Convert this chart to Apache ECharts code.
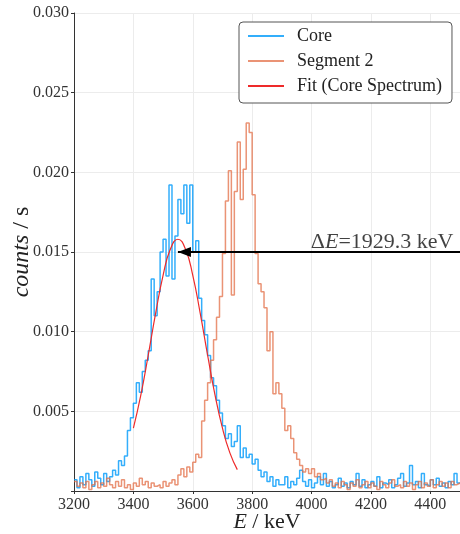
<!DOCTYPE html>
<html>
<head>
<meta charset="utf-8">
<script src="https://cdn.jsdelivr.net/npm/echarts@6/dist/echarts.min.js"></script>
<style>
  html, body { margin: 0; padding: 0; background: #fff; }
  #chart { width: 460px; height: 534px; }
</style>
</head>
<body>
<div id="chart"></div>
<script>
// Histogram binning (keV): left edge of the first bin and the bin width
const binStart = 3200;
const binWidth = 10;

// Core detector spectrum (counts / s), 10 keV bins from 3200 keV
const coreLow = [0.0007, 0.0002, 0.0009, 0.0004, 0.0011, 0.0007, 0.0003, 0.0012, 0.0008, 0.0004,
                 0.0011, 0.0006, 0.0009, 0.0013, 0.0010];
const corePeak = [0.0019, 0.0016, 0.0022, 0.0038, 0.0046, 0.0055, 0.0068, 0.0062, 0.0075, 0.0082,
                  0.0088, 0.0133, 0.0110, 0.0125, 0.0150, 0.0158, 0.0135, 0.0192, 0.0133, 0.0160,
                  0.0183, 0.0174, 0.0192, 0.0168, 0.0192, 0.0150, 0.0157, 0.0121, 0.0107, 0.0098,
                  0.0085, 0.0071, 0.0066, 0.0057, 0.0049, 0.0041, 0.0033, 0.0036, 0.0028, 0.0031,
                  0.0041, 0.0021, 0.0027, 0.0021, 0.0023, 0.0017, 0.0020, 0.0013, 0.0009, 0.0012,
                  0.0006, 0.0009, 0.0003, 0.0007, 0.0004];
const coreHigh = [0.0004, 0.0009, 0.0002, 0.0006, 0.0004, 0.0008, 0.0013, 0.0006, 0.0003, 0.0007,
                  0.0002, 0.0005, 0.0009, 0.0004, 0.0011, 0.0003, 0.0006, 0.0002, 0.0004, 0.0008,
                  0.0003, 0.0005, 0.0002, 0.0006, 0.0004, 0.0011, 0.0003, 0.0007, 0.0002, 0.0004,
                  0.0006, 0.0003, 0.0009, 0.0002, 0.0005, 0.0004, 0.0007, 0.0002, 0.0004, 0.0008,
                  0.0011, 0.0003, 0.0005, 0.0016, 0.0004, 0.0006, 0.0002, 0.0011, 0.0004, 0.0003,
                  0.0007, 0.0004, 0.0008, 0.0003, 0.0005, 0.0002, 0.0006, 0.0004, 0.0011, 0.0005];

// Segment 2 spectrum (counts / s), same binning
const segLow = [0.0006, 0.0003, 0.0005, 0.0002, 0.0006, 0.0001, 0.0004, 0.0006, 0.0002, 0.0005,
                0.0003, 0.0008, 0.0004, 0.0002, 0.0006, 0.0003, 0.0007, 0.0002, 0.0004, 0.0001,
                0.0005, 0.0003, 0.0008, 0.0004, 0.0006, 0.0002, 0.0005, 0.0003, 0.0004, 0.0002,
                0.0006, 0.0003, 0.0005, 0.0007, 0.0004];
const segPeak = [0.0010, 0.0014, 0.0009, 0.0015, 0.0012, 0.0018, 0.0023, 0.0021, 0.0044, 0.0057,
                 0.0068, 0.0082, 0.0095, 0.0109, 0.0122, 0.0149, 0.0182, 0.0201, 0.0123, 0.0188,
                 0.0219, 0.0183, 0.0202, 0.0231, 0.0225, 0.0186, 0.0149, 0.0130, 0.0125, 0.0115,
                 0.0088, 0.0100, 0.0061, 0.0068, 0.0061, 0.0052, 0.0038, 0.0041, 0.0033, 0.0024,
                 0.0020, 0.0016, 0.0012, 0.0014, 0.0011, 0.0014, 0.0009, 0.0011, 0.0007, 0.0008,
                 0.0005];
const segHigh = [0.0007, 0.0003, 0.0005, 0.0002, 0.0006, 0.0004, 0.0001, 0.0005, 0.0003, 0.0007,
                 0.0002, 0.0004, 0.0006, 0.0002, 0.0005, 0.0003, 0.0001, 0.0006, 0.0004, 0.0002,
                 0.0005, 0.0007, 0.0003, 0.0004, 0.0002, 0.0006, 0.0003, 0.0005, 0.0001, 0.0004,
                 0.0006, 0.0002, 0.0005, 0.0003, 0.0007, 0.0002, 0.0004, 0.0006, 0.0003, 0.0005,
                 0.0002, 0.0006, 0.0004, 0.0005];

// Gaussian fit to the core peak, sampled every 25 keV
const fitEnergy = [3400, 3425, 3450, 3475, 3500, 3525, 3550, 3575, 3600, 3625, 3650, 3675, 3700, 3725, 3750];
const fitRate = [0.00394, 0.00602, 0.00852, 0.01116, 0.01354, 0.0152, 0.0158, 0.0152, 0.01354, 0.01116,
                 0.00852, 0.00602, 0.00394, 0.00239, 0.00134];

// Energy shift annotation: arrow from the shifted position back to the fitted centroid
const shiftFrom = 5479.3;
const shiftTo = 3550;
const shiftLevel = 0.015;
const shiftLabel = '1929.3 keV';

// Axis ticks
const xTicks = { min: 3200, max: 4500, interval: 200 };
const yTicks = { min: 0, max: 0.030, interval: 0.005 };

const serif = '"Liberation Serif", "DejaVu Serif", serif';

function toSteps(values) {
  const pts = values.map((v, i) => [binStart + i * binWidth, v]);
  pts.push([binStart + values.length * binWidth, values[values.length - 1]]);
  return pts;
}

const coreData = toSteps(coreLow.concat(corePeak, coreHigh));
const segData = toSteps(segLow.concat(segPeak, segHigh));
const fitData = fitEnergy.map((e, i) => [e, fitRate[i]]);

// The arrow tail lies beyond the right edge of the plot; it is cut at the axis limit
const arrowTail = Math.min(shiftFrom, xTicks.max);

const chart = echarts.init(document.getElementById('chart'), null, { renderer: 'canvas' });

chart.setOption({
  animation: false,
  backgroundColor: '#ffffff',
  grid: { left: 74, right: 0, top: 13, bottom: 43, containLabel: false, outerBoundsMode: 'none' },
  legend: {
    data: ['Core', 'Segment 2', 'Fit (Core Spectrum)'],
    orient: 'vertical',
    left: 239,
    top: 22,
    padding: [5, 10, 8, 8],
    itemGap: 7,
    itemWidth: 36,
    itemHeight: 14,
    itemStyle: { opacity: 0 },
    borderColor: '#555',
    borderWidth: 1,
    borderRadius: 4,
    backgroundColor: '#fff',
    textStyle: { fontFamily: serif, fontSize: 18, color: '#222', padding: [0, 0, 0, 8] }
  },
  xAxis: {
    type: 'value',
    min: xTicks.min,
    max: xTicks.max,
    interval: xTicks.interval,
    name: '{i|E} / keV',
    nameLocation: 'middle',
    nameGap: 20,
    nameMoveOverlap: false,
    nameTextStyle: {
      fontFamily: serif, fontSize: 22, color: '#222',
      rich: { i: { fontFamily: serif, fontSize: 22, fontStyle: 'italic', color: '#222' } }
    },
    axisLine: { show: true, lineStyle: { color: '#333', width: 1 } },
    axisTick: { show: true, length: 3, lineStyle: { color: '#333' } },
    axisLabel: {
      fontFamily: serif, fontSize: 16, color: '#333', margin: 6, showMaxLabel: false,
      formatter: v => String(v)
    },
    splitLine: { show: true, lineStyle: { color: '#ececec', width: 1 } }
  },
  yAxis: {
    type: 'value',
    min: yTicks.min,
    max: yTicks.max,
    interval: yTicks.interval,
    name: '{i|counts} / s',
    nameLocation: 'middle',
    nameRotate: 90,
    nameGap: 40,
    nameMoveOverlap: false,
    nameTextStyle: {
      fontFamily: serif, fontSize: 24, color: '#222',
      rich: { i: { fontFamily: serif, fontSize: 24, fontStyle: 'italic', color: '#222' } }
    },
    axisLine: { show: true, lineStyle: { color: '#333', width: 1 } },
    axisTick: { show: true, length: 3, lineStyle: { color: '#333' } },
    axisLabel: {
      fontFamily: serif, fontSize: 16, color: '#333', margin: 5,
      formatter: v => (v === 0 ? '' : v.toFixed(3))
    },
    splitLine: { show: true, lineStyle: { color: '#ececec', width: 1 } }
  },
  series: [
    {
      name: 'Core',
      type: 'line',
      step: 'end',
      data: coreData,
      symbol: 'none',
      color: 'rgba(0,154,250,0.8)',
      lineStyle: { width: 1.5, color: 'rgba(0,154,250,0.8)' },
      z: 2
    },
    {
      name: 'Segment 2',
      type: 'line',
      step: 'end',
      data: segData,
      symbol: 'none',
      color: 'rgba(227,111,71,0.75)',
      lineStyle: { width: 1.5, color: 'rgba(227,111,71,0.75)' },
      z: 3
    },
    {
      name: 'Fit (Core Spectrum)',
      type: 'line',
      smooth: true,
      data: fitData,
      symbol: 'none',
      color: '#ee2a2a',
      lineStyle: { width: 1.2, color: '#ee2a2a' },
      z: 4,
      markLine: {
        silent: true,
        symbol: ['none', 'triangle'],
        symbolSize: [10, 13],
        symbolOffset: [[0, 0], [0, 6.5]],
        label: { show: false },
        lineStyle: { color: '#000', width: 2, type: 'solid' },
        emphasis: { disabled: true },
        data: [[{ coord: [arrowTail, shiftLevel] }, { coord: [shiftTo, shiftLevel] }]]
      }
    },
    {
      name: 'shift-label',
      type: 'scatter',
      data: [[4478, shiftLevel]],
      symbolSize: 0,
      silent: true,
      z: 5,
      label: {
        show: true,
        position: [0, 0],
        align: 'right',
        verticalAlign: 'bottom',
        offset: [0, 0],
        formatter: '{d|\u0394}{e|E}{t|=' + shiftLabel + '}',
        rich: {
          d: { fontFamily: serif, fontSize: 22, lineHeight: 20, color: '#111' },
          e: { fontFamily: serif, fontSize: 22, lineHeight: 20, fontStyle: 'italic', color: '#111' },
          t: { fontFamily: serif, fontSize: 22, lineHeight: 20, color: '#111' }
        }
      }
    }
  ]
});
</script>
</body>
</html>
